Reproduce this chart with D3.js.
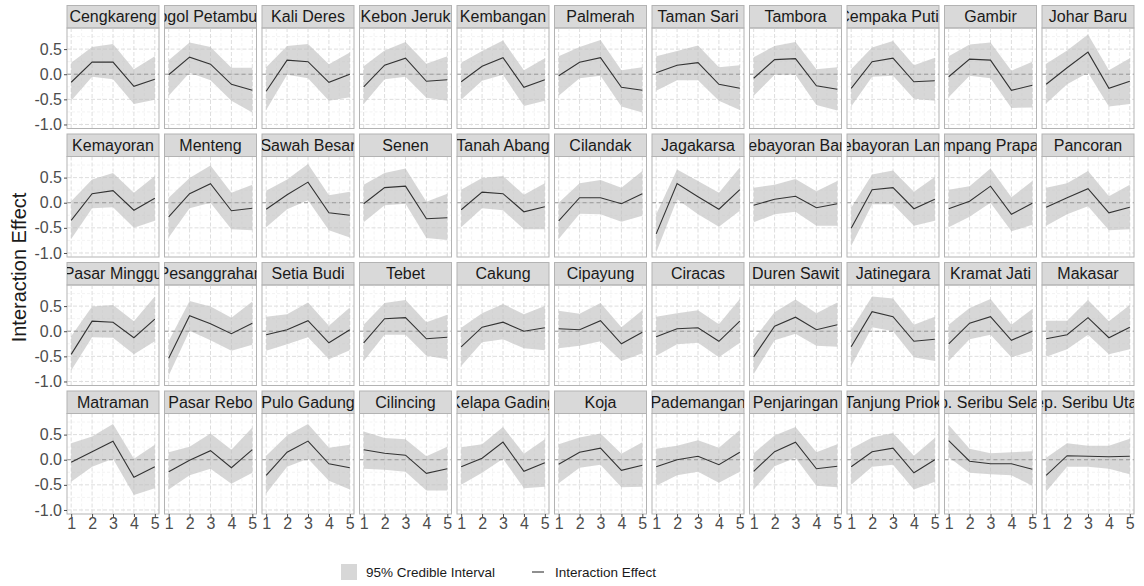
<!DOCTYPE html>
<html>
<head>
<meta charset="utf-8">
<script src="https://cdn.jsdelivr.net/npm/d3@7"></script>
<style>
body { margin: 0; background: #fff; }
text { font-family: "Liberation Sans", Arial, sans-serif; }
</style>
</head>
<body>
<svg id="chart"></svg>
<script>
// data (district order = facet order)
const districts = [
    "Cengkareng", "Grogol Petamburan", "Kali Deres", "Kebon Jeruk", "Kembangan", "Palmerah", "Taman Sari", "Tambora", "Cempaka Putih", "Gambir", "Johar Baru",
    "Kemayoran", "Menteng", "Sawah Besar", "Senen", "Tanah Abang", "Cilandak", "Jagakarsa", "Kebayoran Baru", "Kebayoran Lama", "Mampang Prapatan", "Pancoran",
    "Pasar Minggu", "Pesanggrahan", "Setia Budi", "Tebet", "Cakung", "Cipayung", "Ciracas", "Duren Sawit", "Jatinegara", "Kramat Jati", "Makasar",
    "Matraman", "Pasar Rebo", "Pulo Gadung", "Cilincing", "Kelapa Gading", "Koja", "Pademangan", "Penjaringan", "Tanjung Priok", "Kep. Seribu Selatan", "Kep. Seribu Utara"
];

const periods = [1, 2, 3, 4, 5];

const effect = [
    [-0.16, 0.24, 0.24, -0.24, -0.10], [-0.01, 0.34, 0.20, -0.20, -0.32], [-0.34, 0.28, 0.25, -0.16, 0.00], [-0.25, 0.18, 0.32, -0.14, -0.11],
    [-0.15, 0.16, 0.33, -0.26, -0.11], [-0.03, 0.24, 0.33, -0.26, -0.32], [0.03, 0.18, 0.23, -0.20, -0.28], [-0.08, 0.29, 0.31, -0.23, -0.30],
    [-0.28, 0.25, 0.32, -0.15, -0.13], [-0.05, 0.30, 0.28, -0.32, -0.22], [-0.20, 0.13, 0.44, -0.28, -0.14],
    [-0.35, 0.18, 0.24, -0.15, 0.09], [-0.28, 0.18, 0.38, -0.16, -0.11], [-0.13, 0.16, 0.41, -0.20, -0.25], [-0.02, 0.30, 0.33, -0.32, -0.30],
    [-0.14, 0.21, 0.18, -0.18, -0.08], [-0.36, 0.10, 0.10, -0.02, 0.18], [-0.62, 0.38, 0.12, -0.13, 0.26], [-0.05, 0.07, 0.13, -0.10, -0.02],
    [-0.51, 0.26, 0.30, -0.12, 0.07], [-0.12, 0.03, 0.33, -0.23, -0.01], [-0.09, 0.10, 0.28, -0.20, -0.09],
    [-0.46, 0.20, 0.18, -0.13, 0.24], [-0.54, 0.31, 0.15, -0.05, 0.16], [-0.07, 0.03, 0.21, -0.23, 0.03], [-0.23, 0.25, 0.27, -0.15, -0.12],
    [-0.31, 0.08, 0.18, 0.00, 0.07], [0.05, 0.03, 0.21, -0.25, -0.02], [-0.11, 0.05, 0.07, -0.20, 0.20], [-0.51, 0.10, 0.28, 0.03, 0.13],
    [-0.31, 0.39, 0.29, -0.20, -0.16], [-0.25, 0.16, 0.29, -0.18, 0.00], [-0.15, -0.07, 0.27, -0.13, 0.08],
    [-0.05, 0.16, 0.37, -0.35, -0.14], [-0.24, -0.01, 0.18, -0.16, 0.20], [-0.31, 0.15, 0.37, -0.08, -0.16], [0.20, 0.13, 0.09, -0.27, -0.18],
    [-0.14, 0.03, 0.35, -0.23, -0.06], [-0.09, 0.15, 0.23, -0.21, -0.11], [-0.14, 0.00, 0.07, -0.10, 0.15], [-0.23, 0.16, 0.35, -0.18, -0.13],
    [-0.14, 0.16, 0.23, -0.26, 0.00], [0.38, -0.03, -0.08, -0.08, -0.19], [-0.31, 0.08, 0.07, 0.06, 0.07]
];

const lower = [
    [-0.53, -0.05, -0.10, -0.59, -0.51], [-0.43, 0.03, -0.12, -0.53, -0.76], [-0.71, -0.01, -0.08, -0.53, -0.46], [-0.59, -0.10, -0.05, -0.47, -0.53],
    [-0.51, -0.13, -0.01, -0.63, -0.53], [-0.43, -0.08, -0.03, -0.64, -0.76], [-0.33, -0.12, -0.12, -0.53, -0.71], [-0.43, -0.01, -0.01, -0.61, -0.72],
    [-0.64, -0.05, -0.03, -0.49, -0.53], [-0.46, -0.03, -0.08, -0.67, -0.66], [-0.58, -0.20, 0.03, -0.64, -0.59],
    [-0.72, -0.11, -0.09, -0.50, -0.36], [-0.69, -0.11, 0.00, -0.53, -0.55], [-0.49, -0.13, 0.05, -0.55, -0.69], [-0.39, -0.05, -0.02, -0.70, -0.74],
    [-0.49, -0.11, -0.15, -0.53, -0.53], [-0.72, -0.22, -0.23, -0.38, -0.26], [-0.99, 0.07, -0.23, -0.48, -0.16], [-0.39, -0.23, -0.18, -0.46, -0.46],
    [-0.86, -0.03, -0.03, -0.46, -0.36], [-0.49, -0.28, 0.00, -0.57, -0.44], [-0.46, -0.23, -0.07, -0.55, -0.53],
    [-0.78, -0.12, -0.13, -0.46, -0.20], [-0.88, 0.01, -0.18, -0.39, -0.27], [-0.39, -0.26, -0.12, -0.56, -0.38], [-0.59, -0.07, -0.07, -0.49, -0.56],
    [-0.69, -0.22, -0.16, -0.34, -0.38], [-0.34, -0.29, -0.20, -0.59, -0.44], [-0.49, -0.26, -0.23, -0.52, -0.23], [-0.85, -0.18, -0.05, -0.29, -0.31],
    [-0.69, 0.08, 0.00, -0.52, -0.59], [-0.59, -0.16, -0.07, -0.52, -0.39], [-0.51, -0.36, -0.07, -0.46, -0.36],
    [-0.44, -0.14, 0.02, -0.70, -0.57], [-0.59, -0.31, -0.18, -0.48, -0.26], [-0.67, -0.14, 0.02, -0.42, -0.59], [-0.18, -0.20, -0.24, -0.61, -0.61],
    [-0.50, -0.26, 0.02, -0.57, -0.54], [-0.47, -0.16, -0.10, -0.55, -0.54], [-0.52, -0.31, -0.24, -0.46, -0.24], [-0.59, -0.13, 0.04, -0.52, -0.55],
    [-0.50, -0.14, -0.10, -0.59, -0.44], [0.05, -0.26, -0.29, -0.31, -0.52], [-0.63, -0.14, -0.14, -0.18, -0.29]
];

const upper = [
    [0.23, 0.54, 0.60, 0.10, 0.36], [0.28, 0.63, 0.54, 0.13, 0.13], [0.14, 0.56, 0.60, 0.20, 0.43], [0.16, 0.47, 0.64, 0.21, 0.36],
    [0.23, 0.46, 0.67, 0.08, 0.32], [0.36, 0.54, 0.68, 0.08, 0.14], [0.36, 0.46, 0.57, 0.14, 0.18], [0.34, 0.56, 0.64, 0.10, 0.14],
    [0.10, 0.53, 0.66, 0.18, 0.33], [0.36, 0.59, 0.63, 0.07, 0.25], [0.21, 0.47, 0.79, 0.08, 0.32],
    [0.03, 0.46, 0.59, 0.20, 0.53], [0.10, 0.49, 0.74, 0.20, 0.36], [0.24, 0.46, 0.77, 0.15, 0.22], [0.36, 0.59, 0.68, 0.02, 0.18],
    [0.26, 0.49, 0.53, 0.16, 0.39], [0.00, 0.39, 0.45, 0.30, 0.63], [-0.23, 0.66, 0.43, 0.20, 0.70], [0.30, 0.36, 0.47, 0.23, 0.43],
    [-0.10, 0.56, 0.64, 0.22, 0.51], [0.26, 0.33, 0.68, 0.11, 0.43], [0.30, 0.39, 0.63, 0.13, 0.36],
    [-0.10, 0.49, 0.52, 0.20, 0.69], [-0.20, 0.60, 0.49, 0.27, 0.59], [0.29, 0.34, 0.57, 0.11, 0.47], [0.13, 0.56, 0.62, 0.18, 0.33],
    [0.07, 0.36, 0.54, 0.34, 0.50], [0.41, 0.35, 0.56, 0.08, 0.42], [0.29, 0.36, 0.42, 0.14, 0.64], [-0.16, 0.38, 0.63, 0.36, 0.57],
    [0.03, 0.69, 0.65, 0.13, 0.29], [0.13, 0.46, 0.64, 0.13, 0.44], [0.21, 0.21, 0.62, 0.20, 0.52],
    [0.33, 0.46, 0.71, 0.02, 0.30], [0.15, 0.26, 0.52, 0.20, 0.64], [0.08, 0.48, 0.71, 0.24, 0.30], [0.56, 0.43, 0.41, 0.07, 0.26],
    [0.25, 0.31, 0.65, 0.12, 0.41], [0.31, 0.44, 0.52, 0.12, 0.35], [0.22, 0.28, 0.39, 0.24, 0.59], [0.13, 0.48, 0.65, 0.15, 0.31],
    [0.22, 0.44, 0.53, 0.08, 0.43], [0.69, 0.22, 0.13, 0.15, 0.17], [0.04, 0.33, 0.28, 0.28, 0.42]
];

const yTicks = [-1.0, -0.5, 0.0, 0.5];
const yMinor = [-0.75, -0.25, 0.25, 0.75];
const xMinor = [1.5, 2.5, 3.5, 4.5];
const legendLabels = ["95% Credible Interval", "Interaction Effect"];

// layout
const svgWidth = 1144,
    svgHeight = 586,
    nCols = 11,
    left0 = 67,
    top0 = 5.5,
    pitchX = 97.5,
    pitchY = 128.5,
    panelW = 92,
    stripH = 22.5,
    panelH = 100.5;

const chart = d3.select('#chart')
    .attr("width", svgWidth)
    .attr("height", svgHeight);

const xScale = d3.scaleLinear().domain([0.8, 5.2]).range([0, panelW]);
const yScale = d3.scaleLinear().domain([-1.08, 0.92]).range([panelH, 0]);

const area = d3.area()
    .x(function(d){ return xScale(d.x); })
    .y0(function(d){ return yScale(d.lo); })
    .y1(function(d){ return yScale(d.hi); });

const line = d3.line()
    .x(function(d){ return xScale(d.x); })
    .y(function(d){ return yScale(d.y); });

const defs = chart.append("defs");

districts.forEach(function(name, i) {
    const col = i % nCols,
        row = Math.floor(i / nCols);
    const px = left0 + col * pitchX,
        py = top0 + row * pitchY;

    const facet = chart.append("g").attr("transform", "translate(" + px + "," + py + ")");

    // strip
    defs.append("clipPath").attr("id", "clip" + i)
        .append("rect").attr("width", panelW).attr("height", stripH);
    facet.append("rect")
        .attr("width", panelW).attr("height", stripH)
        .attr("fill", "#d9d9d9").attr("stroke", "#b3b3b3").attr("stroke-width", 1);
    facet.append("g").attr("clip-path", "url(#clip" + i + ")")
        .append("text")
        .attr("x", panelW / 2).attr("y", stripH / 2 + 5.6)
        .attr("text-anchor", "middle")
        .style("font-size", "16px")
        .style("fill", "#1a1a1a")
        .text(name);

    const panel = facet.append("g").attr("transform", "translate(0," + stripH + ")");

    // grid
    panel.selectAll(".ymin").data(yMinor).enter().append("line")
        .attr("x1", 0).attr("x2", panelW)
        .attr("y1", yScale).attr("y2", yScale)
        .attr("stroke", "#ececec").attr("stroke-width", 0.6).attr("stroke-dasharray", "3,2");
    panel.selectAll(".xmin").data(xMinor).enter().append("line")
        .attr("y1", 0).attr("y2", panelH)
        .attr("x1", xScale).attr("x2", xScale)
        .attr("stroke", "#ececec").attr("stroke-width", 0.6).attr("stroke-dasharray", "3,2");
    panel.selectAll(".ymaj").data(yTicks).enter().append("line")
        .attr("x1", 0).attr("x2", panelW)
        .attr("y1", yScale).attr("y2", yScale)
        .attr("stroke", "#dedede").attr("stroke-width", 1).attr("stroke-dasharray", "4,2");
    panel.selectAll(".xmaj").data(periods).enter().append("line")
        .attr("y1", 0).attr("y2", panelH)
        .attr("x1", xScale).attr("x2", xScale)
        .attr("stroke", "#dedede").attr("stroke-width", 1).attr("stroke-dasharray", "4,2");

    const pts = periods.map(function(p, j) {
        return { x: p, y: effect[i][j], lo: lower[i][j], hi: upper[i][j] };
    });

    panel.append("path").datum(pts)
        .attr("d", area)
        .attr("fill", "#bdbdbd").attr("fill-opacity", 0.6);

    panel.append("line")
        .attr("x1", 0).attr("x2", panelW)
        .attr("y1", yScale(0)).attr("y2", yScale(0))
        .attr("stroke", "#9a9a9a").attr("stroke-width", 1).attr("stroke-dasharray", "4,3");

    panel.append("path").datum(pts)
        .attr("d", line)
        .attr("fill", "none").attr("stroke", "#333").attr("stroke-width", 1.1);

    panel.append("rect")
        .attr("width", panelW).attr("height", panelH)
        .attr("fill", "none").attr("stroke", "#b3b3b3").attr("stroke-width", 1);

    // y axis on first column
    if (col == 0) {
        const yAxis = d3.axisLeft(yScale).tickValues(yTicks).tickFormat(d3.format(".1f")).tickSize(3).tickPadding(2);
        const ga = panel.append("g").call(yAxis);
        ga.select(".domain").remove();
        ga.selectAll("line").attr("stroke", "#4d4d4d");
        ga.selectAll("text").style("font-size", "16px").style("fill", "#4d4d4d")
            .style("font-family", "'Liberation Sans', Arial, sans-serif")
            .text(function(d){ return d3.format(".1f")(d).replace("−", "-"); });
    }
    // x axis on last row
    if (row == 3) {
        const xAxis = d3.axisBottom(xScale).tickValues(periods).tickFormat(d3.format("d")).tickSize(3).tickPadding(1);
        const gx = panel.append("g").attr("transform", "translate(0," + panelH + ")").call(xAxis);
        gx.select(".domain").remove();
        gx.selectAll("line").attr("stroke", "#4d4d4d");
        gx.selectAll("text").style("font-size", "16px").style("fill", "#4d4d4d")
            .style("font-family", "'Liberation Sans', Arial, sans-serif");
    }
});

// y title
chart.append("text")
    .attr("transform", "translate(26," + (top0 + 4 * pitchY / 2 + 5) + ") rotate(-90)")
    .attr("text-anchor", "middle")
    .style("font-size", "20px")
    .style("fill", "#1a1a1a")
    .text("Interaction Effect");

// legend
const legend = chart.append("g").attr("transform", "translate(341,564)");
legend.append("rect")
    .attr("width", 16).attr("height", 16)
    .attr("fill", "#bdbdbd").attr("fill-opacity", 0.6);
legend.append("text")
    .attr("x", 25).attr("y", 13)
    .style("font-size", "13.5px").style("fill", "#1a1a1a")
    .text(legendLabels[0]);
legend.append("line")
    .attr("x1", 191).attr("x2", 203).attr("y1", 8).attr("y2", 8)
    .attr("stroke", "#333").attr("stroke-width", 1.1);
legend.append("text")
    .attr("x", 214).attr("y", 13)
    .style("font-size", "13.5px").style("fill", "#1a1a1a")
    .text(legendLabels[1]);
</script>
</body>
</html>
